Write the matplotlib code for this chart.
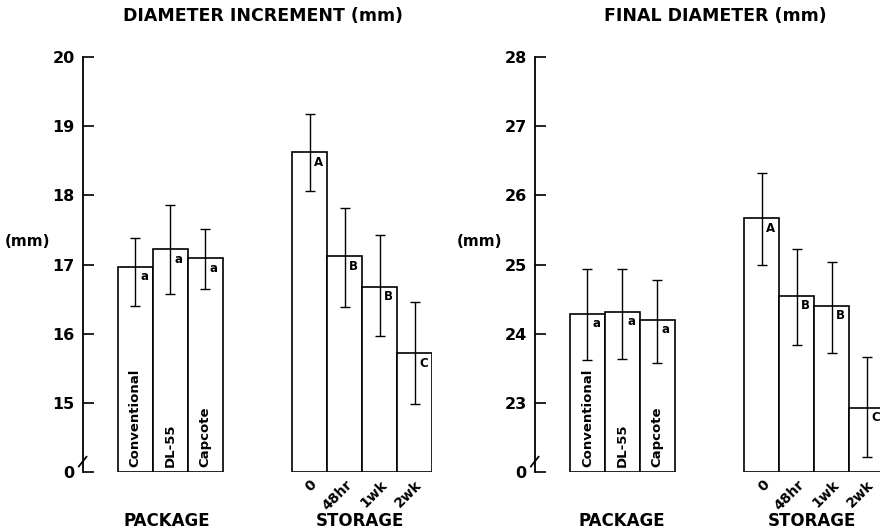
import matplotlib.pyplot as plt
from matplotlib.lines import Line2D

plt.rcParams["font.family"] = ["DejaVu Sans"]
plt.rcParams["font.weight"] = "bold"

packages = ["Conventional", "DL-55", "Capcote"]
storage = ["0", "48hr", "1wk", "2wk"]

# diameter increment (mm)
inc_pkg = [16.97, 17.22, 17.09]
inc_pkg_lo = [16.40, 16.58, 16.64]
inc_pkg_hi = [17.38, 17.86, 17.52]
inc_pkg_let = ["a", "a", "a"]
inc_sto = [18.62, 17.12, 16.68, 15.72]
inc_sto_lo = [18.07, 16.39, 15.97, 14.98]
inc_sto_hi = [19.17, 17.81, 17.42, 16.46]
inc_sto_let = ["A", "B", "B", "C"]
inc_ticks = [14, 15, 16, 17, 18, 19, 20]
inc_ticklabels = ["0", "15", "16", "17", "18", "19", "20"]

# final diameter (mm)
fin_pkg = [24.29, 24.32, 24.20]
fin_pkg_lo = [23.62, 23.64, 23.57]
fin_pkg_hi = [24.93, 24.93, 24.78]
fin_pkg_let = ["a", "a", "a"]
fin_sto = [25.67, 24.55, 24.40, 22.93]
fin_sto_lo = [25.00, 23.84, 23.72, 22.22]
fin_sto_hi = [26.33, 25.23, 25.04, 23.67]
fin_sto_let = ["A", "B", "B", "C"]
fin_ticks = [22, 23, 24, 25, 26, 27, 28]
fin_ticklabels = ["0", "23", "24", "25", "26", "27", "28"]


def panel(ax, base, pkg, pkg_lo, pkg_hi, pkg_let, sto, sto_lo, sto_hi, sto_let,
          ticks, ticklabels, xmax=8.5):
    xp = [0, 1, 2]
    xs = [5, 6, 7, 8]
    for x, v, lo, hi in [(xp, pkg, pkg_lo, pkg_hi), (xs, sto, sto_lo, sto_hi)]:
        ax.bar(x, [t - base for t in v], bottom=base, width=1.0, color="white",
               edgecolor="black", linewidth=1.2)
        err = [[a - b for a, b in zip(v, lo)], [b - a for a, b in zip(v, hi)]]
        ax.errorbar(x, v, yerr=err, fmt="none", ecolor="black", elinewidth=1.0,
                    capsize=3.5, capthick=1.0)
    # significance letters
    for x, v, l in zip(xp + xs, pkg + sto, pkg_let + sto_let):
        ax.text(x + 0.25, v - 0.05, l, ha="center", va="top", fontsize=8.5,
                fontweight="bold")
    for x, name in zip(xp, packages):
        ax.text(x, base + 0.07, name, rotation=90, ha="center", va="bottom",
                fontsize=9.5, fontweight="bold")

    ax.set_xlim(-1.5, xmax)
    ax.set_ylim(base, ticks[-1])
    ax.set_yticks(ticks, ticklabels)
    ax.tick_params(axis="y", direction="in", length=8, width=1.2, pad=6,
                   labelsize=11.5)
    ax.set_xticks(xs, storage, rotation=45, ha="right", rotation_mode="anchor",
                  fontsize=10, fontweight="bold")
    ax.tick_params(axis="x", length=0, pad=4)
    for s in ["top", "right", "bottom"]:
        ax.spines[s].set_visible(False)
    ax.spines["left"].set_linewidth(1.3)
    # axis break mark
    ax.add_line(Line2D([-1.5 - 0.12, -1.5 + 0.1], [base + 0.08, base + 0.22],
                       color="black", linewidth=1.3, clip_on=False))


fig = plt.figure(figsize=(8.8, 5.31), dpi=100)
ax1 = fig.add_axes([0.0943, 0.1111, 0.3966, 0.7815])
ax2 = fig.add_axes([0.608, 0.1111, 0.4165, 0.7815])

panel(ax1, 14, inc_pkg, inc_pkg_lo, inc_pkg_hi, inc_pkg_let,
      inc_sto, inc_sto_lo, inc_sto_hi, inc_sto_let, inc_ticks, inc_ticklabels)
panel(ax2, 22, fin_pkg, fin_pkg_lo, fin_pkg_hi, fin_pkg_let,
      fin_sto, fin_sto_lo, fin_sto_hi, fin_sto_let, fin_ticks, fin_ticklabels,
      xmax=9.0)

W, H = 880, 531
for x, s in [(263, "DIAMETER INCREMENT (mm)"), (715, "FINAL DIAMETER (mm)")]:
    fig.text(x / W, 1 - 16 / H, s, ha="center", va="center", fontsize=12.5,
             fontweight="bold")
for x in (27, 480):
    fig.text(x / W, 1 - 241 / H, "(mm)", ha="center", va="center", fontsize=11,
             fontweight="bold")
for x, s in [(167, "PACKAGE"), (360, "STORAGE"), (622, "PACKAGE"), (812, "STORAGE")]:
    fig.text(x / W, 1 - 521 / H, s, ha="center", va="center", fontsize=12,
             fontweight="bold")

fig.savefig("out.png", dpi=100)
